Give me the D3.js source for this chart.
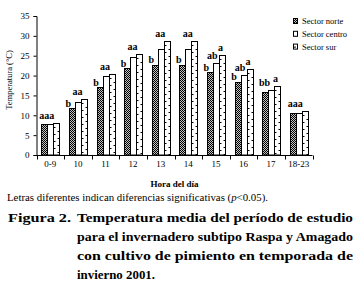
<!DOCTYPE html>
<html><head><meta charset="utf-8">
<script src="https://cdn.jsdelivr.net/npm/d3@7"></script>
<style>
body{margin:0;background:#fff;}
svg{display:block;}
text{font-family:"Liberation Serif","Times New Roman",serif;fill:#000;}
</style></head>
<body>
<script>
// ---- data ----
const categories = ["0-9","10","11","12","13","14","15","16","17","18-23"];
const seriesNames = ["Sector norte","Sector centro","Sector sur"];
const norte  = [7.8,11.8,17.0,21.8,22.7,22.7,20.8,18.5,15.9,10.5];
const centro = [7.8,13.3,19.9,24.8,26.6,26.6,23.1,20.2,16.4,10.5];
const sur    = [8.1,14.0,20.3,25.4,28.7,28.7,25.2,21.6,17.4,11.1];
const yTicks = [0,5,10,15,20,25,30,35];
// significance letters per category, and which bars (0 norte,1 centro,2 sur) each refers to
const sigLetters = [["aaa"],["b","aa"],["b","aa"],["b","aa"],["b","aa"],["b","aa"],["b","ab","a"],["b","ab","a"],["bb","a"],["aaa"]];
const sigBars = [[[0,1,2]],[[0],[1,2]],[[0],[1,2]],[[0],[1,2]],[[0],[1,2]],[[0],[1,2]],[[0],[1],[2]],[[0],[1],[2]],[[0,1],[2]],[[0,1,2]]];
const yTitle = "Temperatura (°C)";
const xTitle = "Hora del día";
const note = ["Letras diferentes indican diferencias significativas (", "p", "<0.05)."];
const figLabel = "Figura 2.";
const figLines = ["Temperatura media del período de estudio","para el invernadero subtipo Raspa y Amagado","con cultivo de pimiento en temporada de","invierno 2001."];

(function(){
const series = [norte, centro, sur];
const W = 359, H = 291;
const svg = d3.select("body").append("svg").attr("width",W).attr("height",H);

const defs = svg.append("defs");
const pat = defs.append("pattern").attr("id","chk").attr("patternUnits","userSpaceOnUse")
  .attr("width",2).attr("height",2);
pat.append("rect").attr("width",2).attr("height",2).attr("fill","#c4c4c4");
pat.append("rect").attr("x",0).attr("y",0).attr("width",1).attr("height",1).attr("fill","#000");
pat.append("rect").attr("x",1).attr("y",1).attr("width",1).attr("height",1).attr("fill","#000");

const pl = 36.5, pr = 312.5, pt = 16, pb = 155;
const x0 = d3.scaleBand().domain(categories).range([pl,pr]).paddingInner(0).paddingOuter(0);
const x1 = d3.scaleBand().domain([0,1,2]).range([0,x0.bandwidth()]).paddingInner(0).paddingOuter(0.8);
const y = d3.scaleLinear().domain([0,35]).range([pb,pt]);

// bars
const fills = ["url(#chk)","#fff","#fff"];
const barData = [];
categories.forEach((c,i)=>series.forEach((s,j)=>barData.push({c,i,j,v:s[i]})));
const bx = d => Math.round(x0(d.c)+x1(d.j))+0.5;
const bw = Math.round(x1.bandwidth());
const g = svg.append("g");
g.selectAll("rect.bar").data(barData).join("rect").attr("class","bar")
  .attr("x",bx).attr("y",d=>Math.round(y(d.v))+0.5)
  .attr("width",bw).attr("height",d=>pb-Math.round(y(d.v))-0.5)
  .attr("fill",d=>fills[d.j]).attr("stroke","#000").attr("stroke-width",1);

// dashes inside sur bars
barData.filter(d=>d.j===2).forEach(d=>{
  const xa = bx(d), ytop = Math.round(y(d.v))+0.5;
  const ys = d3.range(ytop+3.5, pb-1, 3.5);
  ys.forEach((yy,k)=>{
    const yv = Math.round(yy)+0.5;
    const side = k%2===0;
    g.append("line").attr("x1", side? xa : xa+bw-2).attr("x2", side? xa+2 : xa+bw)
      .attr("y1",yv).attr("y2",yv).attr("stroke","#000").attr("stroke-width",1);
  });
});

// axes
const yAxis = svg.append("g").attr("transform",`translate(${pl},0)`)
  .call(d3.axisLeft(y).tickValues(yTicks).tickSize(3).tickPadding(4));
const xAxis = svg.append("g").attr("transform",`translate(0,${pb})`)
  .call(d3.axisBottom(x0).tickSize(0).tickPadding(6));
[yAxis,xAxis].forEach(a=>{
  a.selectAll("path,line").attr("stroke","#000").attr("stroke-width",1);
  a.selectAll("text").style("font-family","Liberation Serif, serif").style("font-size","9px").attr("fill","#000");
});
xAxis.select("path.domain").attr("d",`M${pl},0.5H${pr}`);
// category boundary ticks
const bounds = categories.map(c=>x0(c)).concat([pr]);
xAxis.selectAll("line.bt").data(bounds).join("line").attr("class","bt")
  .attr("x1",d=>Math.round(d)+0.5).attr("x2",d=>Math.round(d)+0.5)
  .attr("y1",0.5).attr("y2",4.5).attr("stroke","#000");

// titles
svg.append("text").attr("transform",`translate(11.5,80) rotate(-90)`)
  .attr("text-anchor","middle").style("font-size","8.5px").text(yTitle);
svg.append("text").attr("x",(pl+pr)/2).attr("y",186.5).attr("text-anchor","middle")
  .style("font-size","9px").style("font-weight","bold").text(xTitle);

// significance letters
categories.forEach((c,i)=>{
  sigLetters[i].forEach((t,k)=>{
    const idx = sigBars[i][k];
    const onlySur = idx.length===1 && idx[0]===2;
    const cx = d3.mean(idx, j=> x0(c)+x1(j)+x1.bandwidth()/2) - (onlySur ? 1.5 : 3.5);
    const vmax = d3.max(idx, j=>series[j][i]);
    const gap = (idx.length===1 && idx[0]===0) ? 1.5 : 4;
    svg.append("text").attr("x",cx).attr("y",y(vmax)-gap).attr("text-anchor","middle")
      .style("font-size","10px").style("font-weight","bold").text(t);
  });
});

// legend
const lg = svg.append("g");
seriesNames.forEach((n,j)=>{
  const yy = 18 + j*12.8;
  lg.append("rect").attr("x",293.5).attr("y",yy+0.5).attr("width",4).attr("height",5)
    .attr("fill",fills[j]).attr("stroke","#000");
  if(j===2) lg.append("line").attr("x1",294).attr("x2",296).attr("y1",yy+3.5).attr("y2",yy+3.5).attr("stroke","#000");
  lg.append("text").attr("x",302).attr("y",yy+6).style("font-size","8.5px").text(n);
});

// note
const nt = svg.append("text").attr("x",7).attr("y",201).style("font-size","10px")
  .attr("textLength",261).attr("lengthAdjust","spacingAndGlyphs");
nt.append("tspan").text(note[0]);
nt.append("tspan").style("font-style","italic").text(note[1]);
nt.append("tspan").text(note[2]);

// figure caption
const cap0 = 221.5, capStep = 19;
svg.append("text").attr("x",8).attr("y",cap0).style("font-size","13.5px").style("font-weight","bold")
  .attr("textLength",63).attr("lengthAdjust","spacingAndGlyphs").text(figLabel);
figLines.forEach((l,i)=>{
  const last = i===figLines.length-1;
  svg.append("text").attr("x",77).attr("y",cap0+i*capStep).style("font-size","13.5px").style("font-weight","bold")
    .attr("textLength", last ? 78 : 276).attr("lengthAdjust","spacingAndGlyphs").text(l);
});
})();
</script>
</body></html>
